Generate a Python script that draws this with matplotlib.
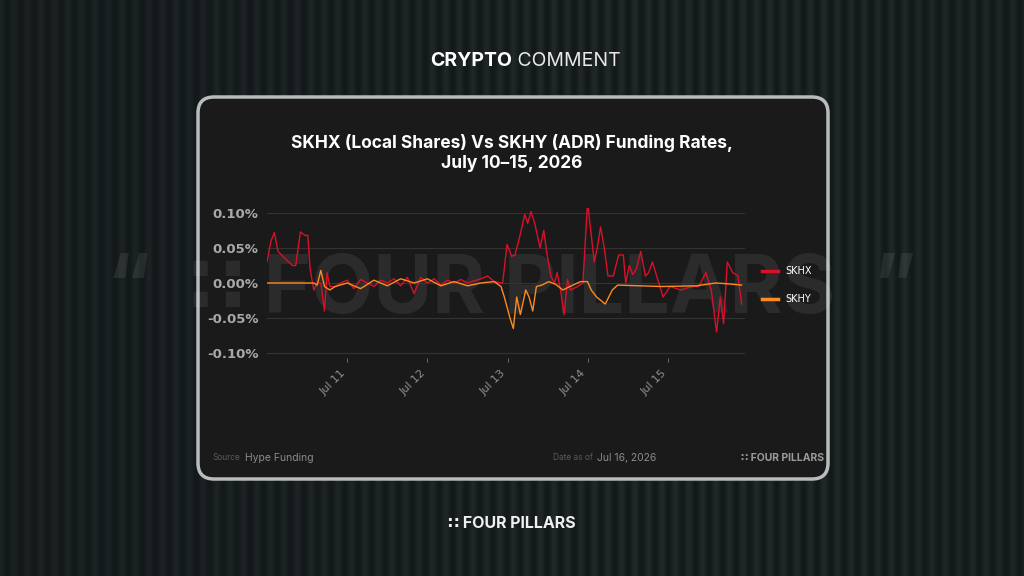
import numpy as np
import matplotlib.pyplot as plt
from matplotlib.patches import FancyBboxPatch
from matplotlib.lines import Line2D

# hours since Jul 10 00:00
skhx_hours = [0, 1.2, 2.2, 3.3, 5.4, 7.6, 8.6, 10, 11.3, 12.2, 12.9, 14, 15, 16.1, 17.2, 18, 18.8, 20.4,
              22, 24, 26, 28, 30, 32, 34, 36, 38, 40, 42, 44, 46, 48, 50, 52, 54, 56, 58, 60, 62, 64, 66, 68,
              70, 70.5, 71.8, 73.2, 74.2, 75.8, 77.1, 78, 79, 80.1, 81.7, 82.8, 83.8, 84.9, 86, 86.8, 87.8,
              88.9, 89.9, 90.8, 92.9, 94.5, 95.9, 97.2, 97.9, 98.8, 99.8, 100.9, 102, 103.6, 105.2, 106.6,
              107.3, 108.4, 109.4, 110.5, 111.8, 113.2, 114.2, 115.3, 116.9, 118.5, 120.6, 123.8, 127,
              129.2, 131.3, 132.9, 134.5, 135.6, 136.6, 137.7, 139.3, 140.9, 142]
skhx = [0.03, 0.06, 0.072, 0.045, 0.035, 0.025, 0.025, 0.073, 0.068, 0.068, 0.02, -0.01, 0.0, 0.0, -0.04,
        0.015, -0.005, -0.005,
        0.0, 0.004, -0.008, 0.005, 0.0, -0.005, 0.004, 0.0, 0.006, -0.004, 0.008, -0.015, 0.008, 0.0,
        0.006, -0.003, 0.004, 0.0, 0.005, 0.0, 0.003, 0.006, 0.01, 0.002,
        0.0, 0.0, 0.055, 0.038, 0.04, 0.07, 0.098, 0.085, 0.102, 0.085, 0.05, 0.075, 0.04, 0.01, 0.0,
        0.015, -0.01, -0.045, 0.005, -0.01, -0.005, 0.0, 0.115, 0.06, 0.03, 0.05, 0.08, 0.05, 0.01,
        0.01, 0.04, 0.04, 0.0, 0.025, 0.012, 0.02, 0.045, 0.01, 0.015, 0.03, 0.005, -0.02, -0.005,
        -0.01, -0.005, -0.005, 0.015, -0.01, -0.07, -0.02, -0.058, 0.03, 0.015, 0.01, -0.03]

skhy_hours = [0, 14, 15, 16.1, 17.2, 18.8, 20.4, 24, 28, 32, 36, 40, 44, 48, 52, 56, 60, 64, 68,
              70, 71, 72.7, 73.7, 74.7, 75.8, 77.4, 78.4, 79.5, 80.6, 82.2, 84.3, 86.4, 88.5, 90.6, 93.8,
              95.9, 97.0, 98.6, 101.2, 103.3, 104.9, 118, 128.5, 134.2, 137.4, 142]
skhy = [0.0, 0.0, -0.003, 0.018, -0.005, -0.01, -0.005, 0.0, -0.008, 0.004, -0.004, 0.006, 0.0, 0.006,
        -0.004, 0.002, -0.004, 0.0, 0.002,
        -0.005, -0.02, -0.05, -0.065, -0.02, -0.045, -0.01, -0.02, -0.04, -0.005, -0.003, 0.002,
        -0.002, -0.01, -0.005, 0.002, 0.002, -0.01, -0.02, -0.03, -0.01, -0.003, -0.005, -0.004,
        0.0, -0.001, -0.003]

yticks = [0.10, 0.05, 0.0, -0.05, -0.10]
xtick_hours = [24, 48, 72, 96, 120]
xtick_labels = ['Jul 11', 'Jul 12', 'Jul 13', 'Jul 14', 'Jul 15']

W, H = 1024, 576
fig = plt.figure(figsize=(W / 100, H / 100), dpi=100)
fig.patch.set_facecolor('#1c2527')

# striped background
bg = fig.add_axes([0, 0, 1, 1])
xs = np.arange(W)
stripe = 0.5 + 0.5 * np.cos(2 * np.pi * xs / 13.5)
glow = np.exp(-((xs - 700) / 400.0) ** 2)
base = 0.09 + 0.06 * stripe * (0.6 + 0.4 * glow)
img = np.zeros((H, W, 3))
img[:, :, 0] = base * 0.85
img[:, :, 1] = base * 1.05
img[:, :, 2] = base * 1.1
bg.imshow(img, aspect='auto', extent=[0, W, H, 0])
bg.set_xlim(0, W)
bg.set_ylim(H, 0)
bg.axis('off')

bg.text(512, 61, 'CRYPTO', color='white', fontsize=14, ha='right', va='center', fontweight='bold',
        family='Inter')
bg.text(512, 61, ' COMMENT', color='#e8e8e8', fontsize=14, ha='left', va='center', family='Inter')
bg.text(512, 523, '∷ FOUR PILLARS', color='#f0f0f0', fontsize=11.5, ha='center', va='center',
        fontweight='bold', family=['Inter', 'DejaVu Sans'])

card = FancyBboxPatch((198, 97), 630, 382, boxstyle='round,pad=0,rounding_size=16',
                      facecolor='#1a1a1a', edgecolor='#b8bcbc', linewidth=2.5, zorder=2)
bg.add_patch(card)

# watermark
bg.text(512, 292, '“  ∷ FOUR PILLARS  ”', color='#ffffff', alpha=0.08, fontsize=58, ha='center',
        va='center', fontweight='bold', family=['Inter', 'DejaVu Sans'], zorder=3)

bg.text(512, 143, 'SKHX (Local Shares) Vs SKHY (ADR) Funding Rates,', color='white', fontsize=12.5,
        ha='center', va='center', fontweight='bold', family='Inter', zorder=4)
bg.text(512, 164, 'July 10–15, 2026', color='white', fontsize=12.5, ha='center', va='center',
        fontweight='bold', family='Inter', zorder=4)

bg.text(213, 458, 'Source', color='#5a5a5a', fontsize=6, va='center', family='Inter', zorder=4)
bg.text(245, 458, 'Hype Funding', color='#8a8a8a', fontsize=7.5, va='center', family='Inter', zorder=4)
bg.text(553, 458, 'Date as of', color='#5a5a5a', fontsize=6, va='center', family='Inter', zorder=4)
bg.text(597, 458, 'Jul 16, 2026', color='#8a8a8a', fontsize=7.5, va='center', family='Inter', zorder=4)
bg.text(824, 458, '∷ FOUR PILLARS', color='#9a9a9a', fontsize=7.5, ha='right', va='center',
        fontweight='bold', family=['Inter', 'DejaVu Sans'], zorder=4)

# legend
bg.add_line(Line2D([762, 778], [271, 271], color='#d8102a', lw=2.5, zorder=4))
bg.text(785, 271, 'SKHX', color='white', fontsize=7, va='center', zorder=4)
bg.add_line(Line2D([762, 778], [299, 299], color='#ff8a1f', lw=2.5, zorder=4))
bg.text(785, 299, 'SKHY', color='white', fontsize=7, va='center', zorder=4)

ax = fig.add_axes([267 / W, 1 - 358 / H, (745 - 267) / W, (358 - 208) / H])
ax.set_facecolor('none')
ax.plot(skhx_hours, skhx, color='#d8102a', lw=1.0, zorder=3)
ax.plot(skhy_hours, skhy, color='#ff8a1f', lw=1.0, zorder=4)
ax.set_xlim(0, 143)
ax.set_ylim(-0.107, 0.107)
ax.set_yticks(yticks)
ax.set_yticklabels([f'{v:.2f}%' for v in yticks], color='#a8a8a8', fontsize=9.5, fontweight='bold')
ax.set_xticks(xtick_hours)
ax.set_xticklabels(xtick_labels, rotation=45, ha='right', color='#8f8f8f', fontsize=8)
ax.tick_params(axis='y', length=0, pad=6)
ax.tick_params(axis='x', length=3, color='#666666', pad=4)
ax.grid(axis='y', color='#333333', lw=0.8)
for s in ax.spines.values():
    s.set_visible(False)

fig.savefig('out.png', dpi=100, facecolor=fig.get_facecolor())
